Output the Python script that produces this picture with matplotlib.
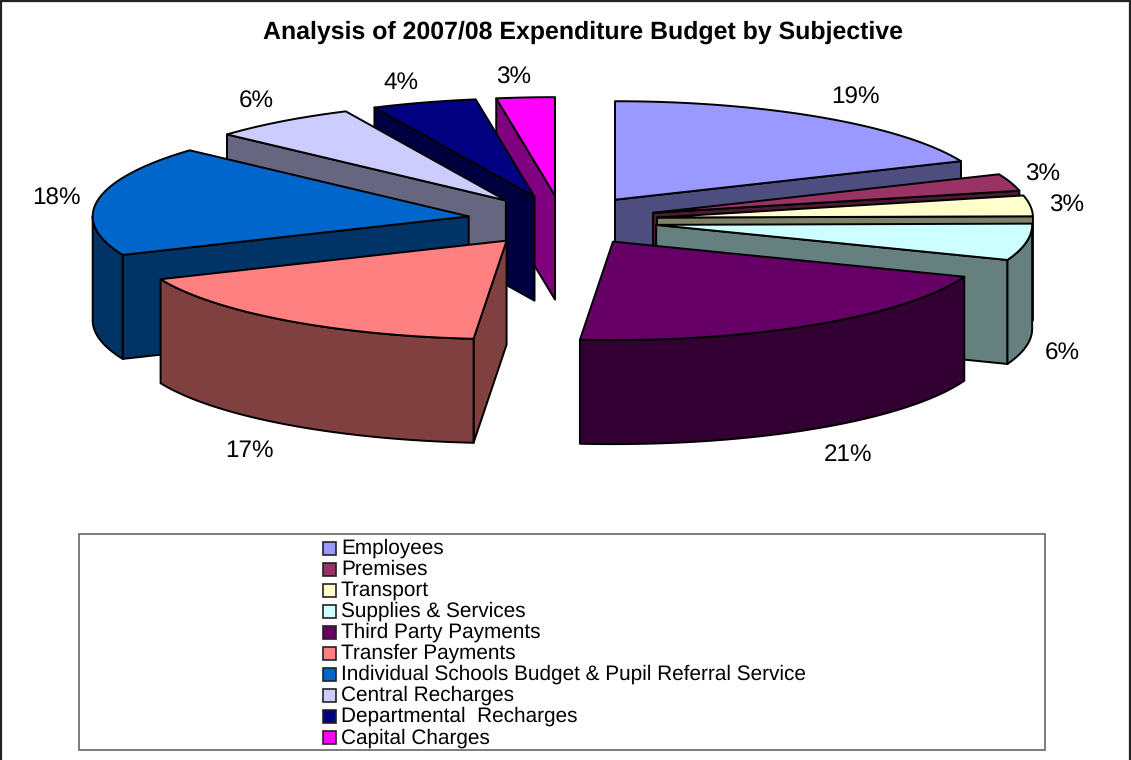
import numpy as np
import matplotlib
matplotlib.use('Agg')
import matplotlib.pyplot as plt
from matplotlib.colors import to_rgb
from matplotlib.patches import Polygon, Rectangle

plt.rcParams['font.family'] = ['Liberation Sans', 'DejaVu Sans']
plt.rcParams['text.hinting'] = 'no_hinting'

# Budget split by subjective
categories = ['Employees', 'Premises', 'Transport', 'Supplies & Services',
              'Third Party Payments', 'Transfer Payments',
              'Individual Schools Budget & Pupil Referral Service',
              'Central Recharges', 'Departmental  Recharges', 'Capital Charges']
percent = [18.6, 2.8, 3.4, 6.0, 20.6, 17.2, 18.1, 6.3, 4.5, 2.5]
percent_labels = [19, 3, 3, 6, 21, 17, 18, 6, 4, 3]
colors = ['#9999FF', '#993366', '#FFFFCC', '#CCFFFF', '#660066',
          '#FF8080', '#0066CC', '#CCCCFF', '#000080', '#FF00FF']

# label anchors in pixels
label_x = [855, 1043, 1067, 1062, 848, 249, 56, 256, 401, 514]
label_y = [97.5, 174.5, 205.5, 353.5, 454.5, 450.5, 198.5, 101.5, 82.5, 77.5]

# pie geometry in pixels
cx, cy = 562.5, 220.5
rx, ry = 376, 98.5
depth = 104
explode = 0.253

fig = plt.figure(figsize=(11.31, 7.6), dpi=100)
ax = fig.add_axes([0, 0, 1, 1])
ax.set_xlim(0, 1131)
ax.set_ylim(760, 0)
ax.axis('off')


def arc(x0, y0, t1, t2, dy=0):
    # angles run clockwise from the top of the pie
    t = np.radians(np.linspace(t1, t2, 80))
    return np.column_stack([x0 + rx * np.sin(t), y0 - ry * np.cos(t) + dy])


def wall(x0, y0, t):
    r = np.radians(t)
    ex, ey = x0 + rx * np.sin(r), y0 - ry * np.cos(r)
    return [(x0, y0), (ex, ey), (ex, ey + depth), (x0, y0 + depth)]


def face(pts, color):
    ax.add_patch(Polygon(pts, closed=True, facecolor=color, edgecolor='black',
                         linewidth=1.4, joinstyle='round'))


edges = np.cumsum([0] + percent) * 3.6
slices = []
for i in range(len(percent)):
    mid = np.radians((edges[i] + edges[i + 1]) / 2)
    x0 = cx + explode * rx * np.sin(mid)
    y0 = cy - explode * ry * np.cos(mid)
    slices.append((y0, x0, edges[i], edges[i + 1], colors[i]))

# back slices first so the front ones cover them
for y0, x0, t1, t2, col in sorted(slices, key=lambda s: s[0]):
    side = tuple(c * 0.5 for c in to_rgb(col))
    if np.cos(np.radians(t1 - 90)) < -1e-6:
        face(wall(x0, y0, t1), side)
    if np.cos(np.radians(t2 + 90)) < -1e-6:
        face(wall(x0, y0, t2), side)
    a, b = max(t1, 90), min(t2, 270)
    if a < b:
        rim = np.vstack([arc(x0, y0, a, b), arc(x0, y0, b, a, depth)])
        face(rim, side)
    top = np.vstack([[(x0, y0)], arc(x0, y0, t1, t2)])
    face(top, col)

for v, x, y in zip(percent_labels, label_x, label_y):
    ax.text(x, y, f'{v}%', fontsize=17.5, ha='center', va='center', color='black')

ax.text(583, 32, 'Analysis of 2007/08 Expenditure Budget by Subjective',
        fontsize=17.95, fontweight='bold', ha='center', va='center')

# legend box
ax.add_patch(Rectangle((79, 533.5), 966, 216, facecolor='white',
                       edgecolor='#666666', linewidth=1.2))
for i, name in enumerate(categories):
    y = 547.5 + i * 21.05
    ax.add_patch(Rectangle((323, y - 6), 13, 13, facecolor=colors[i],
                           edgecolor='#222222', linewidth=1.2))
    ax.text(341, y + 0.8, name, fontsize=14.95, ha='left', va='center', color='black')

# outer chart frame, open along the bottom
ax.plot([1, 1, 1130, 1130], [760, 0.5, 0.5, 760], color='#222222', linewidth=1.6,
        solid_joinstyle='miter')

fig.savefig('out.png', dpi=100)
